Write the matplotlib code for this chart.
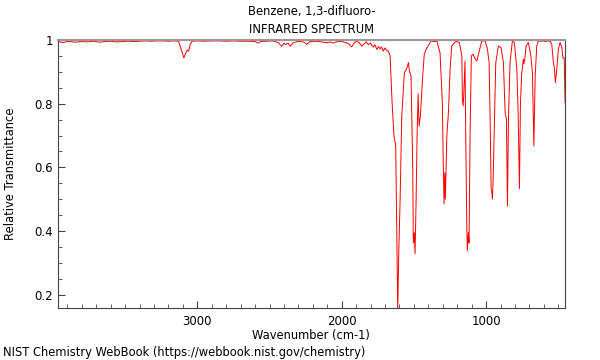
import matplotlib.pyplot as plt
from matplotlib.ticker import MultipleLocator, FormatStrFormatter

# spectrum (wavenumber in cm-1, transmittance)
wavenumber = [3966, 3930, 3890, 3850, 3800, 3760, 3720, 3680, 3640, 3600,
              3560, 3520, 3480, 3440, 3400, 3360, 3320, 3280, 3240, 3200,
              3160, 3130, 3115, 3100, 3093, 3085, 3070, 3060, 3050, 3037,
              3000, 2950, 2900, 2850, 2800, 2750, 2700, 2650, 2600, 2580,
              2560, 2520, 2480, 2440, 2416, 2400, 2390, 2370, 2358, 2340,
              2300, 2260, 2243, 2220, 2180, 2140, 2100, 2080, 2060, 2030,
              2000, 1980, 1960, 1945, 1931, 1915, 1900, 1880, 1861, 1845,
              1830, 1815, 1800, 1790, 1781, 1770, 1757, 1745, 1735, 1725,
              1712, 1700, 1690, 1677, 1665, 1651, 1638, 1626, 1612, 1605,
              1596, 1584, 1566, 1547, 1538, 1532, 1520, 1508, 1504, 1497,
              1492, 1485, 1478, 1471, 1464, 1455, 1439, 1428, 1410, 1381,
              1360, 1340, 1319, 1303, 1296, 1291, 1286, 1282, 1272, 1261,
              1249, 1238, 1210, 1185, 1168, 1164, 1159, 1155, 1146, 1141,
              1134, 1130, 1123, 1118, 1111, 1102, 1090, 1076, 1064, 1050,
              1030, 1007, 991, 979, 972, 965, 960, 956, 951, 942,
              933, 915, 896, 880, 868, 859, 852, 845, 834, 818,
              804, 787, 778, 769, 762, 753, 742, 737, 732, 723,
              707, 690, 679, 669, 660, 649, 638, 620, 600, 591,
              575, 556, 545, 534, 527, 520, 510, 499, 487, 475,
              468, 459, 453]
transmittance = [0.995, 0.992, 0.996, 0.993, 0.995, 0.994, 0.996, 0.993, 0.995, 0.996,
                 0.994, 0.995, 0.996, 0.995, 0.996, 0.997, 0.996, 0.997, 0.997, 0.996,
                 0.997, 0.996, 0.975, 0.955, 0.944, 0.955, 0.968, 0.965, 0.985, 0.996,
                 0.997, 0.996, 0.997, 0.997, 0.996, 0.997, 0.996, 0.996, 0.995, 0.990,
                 0.995, 0.996, 0.997, 0.992, 0.980, 0.990, 0.986, 0.990, 0.980, 0.990,
                 0.996, 0.993, 0.986, 0.995, 0.996, 0.994, 0.991, 0.994, 0.990, 0.995,
                 0.996, 0.992, 0.990, 0.985, 0.978, 0.990, 0.996, 0.992, 0.980, 0.988,
                 0.994, 0.985, 0.990, 0.982, 0.978, 0.985, 0.970, 0.980, 0.972, 0.978,
                 0.965, 0.975, 0.968, 0.965, 0.950, 0.803, 0.699, 0.667, 0.150, 0.330,
                 0.489, 0.762, 0.897, 0.913, 0.929, 0.905, 0.887, 0.595, 0.363, 0.395,
                 0.329, 0.489, 0.700, 0.831, 0.730, 0.762, 0.887, 0.956, 0.975, 0.997,
                 0.995, 0.996, 0.959, 0.803, 0.595, 0.485, 0.583, 0.501, 0.699, 0.771,
                 0.909, 0.981, 0.996, 0.992, 0.950, 0.815, 0.793, 0.824, 0.934, 0.699,
                 0.426, 0.338, 0.395, 0.363, 0.699, 0.950, 0.955, 0.941, 0.934, 0.960,
                 0.997, 0.997, 0.972, 0.929, 0.752, 0.533, 0.520, 0.501, 0.564, 0.752,
                 0.928, 0.981, 0.976, 0.929, 0.771, 0.752, 0.479, 0.752, 0.929, 0.997,
                 0.992, 0.909, 0.771, 0.533, 0.802, 0.897, 0.940, 0.925, 0.940, 0.981,
                 0.992, 0.950, 0.897, 0.667, 0.887, 0.981, 0.997, 0.996, 0.997, 0.995,
                 0.997, 0.996, 0.987, 0.929, 0.913, 0.866, 0.909, 0.972, 0.992, 0.976,
                 0.944, 0.944, 0.803]

fig = plt.figure(figsize=(6, 3.6), dpi=100)
ax = fig.add_axes([0.096, 0.144, 0.846, 0.745])

ax.plot(wavenumber, transmittance, color='red', linewidth=0.7)

ax.set_xlim(3968, 452)
ax.set_ylim(0.158, 1.0)

ax.xaxis.set_major_locator(MultipleLocator(1000))
ax.xaxis.set_minor_locator(MultipleLocator(100))
ax.yaxis.set_major_locator(MultipleLocator(0.2))
ax.yaxis.set_minor_locator(MultipleLocator(0.05))
ax.yaxis.set_major_formatter(FormatStrFormatter('%g'))
ax.tick_params(which='both', direction='in', labelsize=8.5, color='#444444')
ax.tick_params(which='major', length=5)
ax.tick_params(which='minor', length=3)
ax.tick_params(axis='x', pad=5)

for side in ['left', 'bottom', 'right']:
    ax.spines[side].set_color('#444444')
ax.spines['top'].set_color('#999999')
ax.spines['top'].set_linewidth(1.5)

ax.set_xlabel('Wavenumber (cm-1)', fontsize=8.3, labelpad=1)
ax.set_ylabel('Relative Transmittance', fontsize=8.3, labelpad=12)
ax.set_title('Benzene, 1,3-difluoro-\nINFRARED SPECTRUM', fontsize=8.3, pad=5,
             linespacing=1.5)

fig.text(0.005, 0.01, 'NIST Chemistry WebBook (https://webbook.nist.gov/chemistry)',
         fontsize=8.3)

fig.savefig('out.png')
